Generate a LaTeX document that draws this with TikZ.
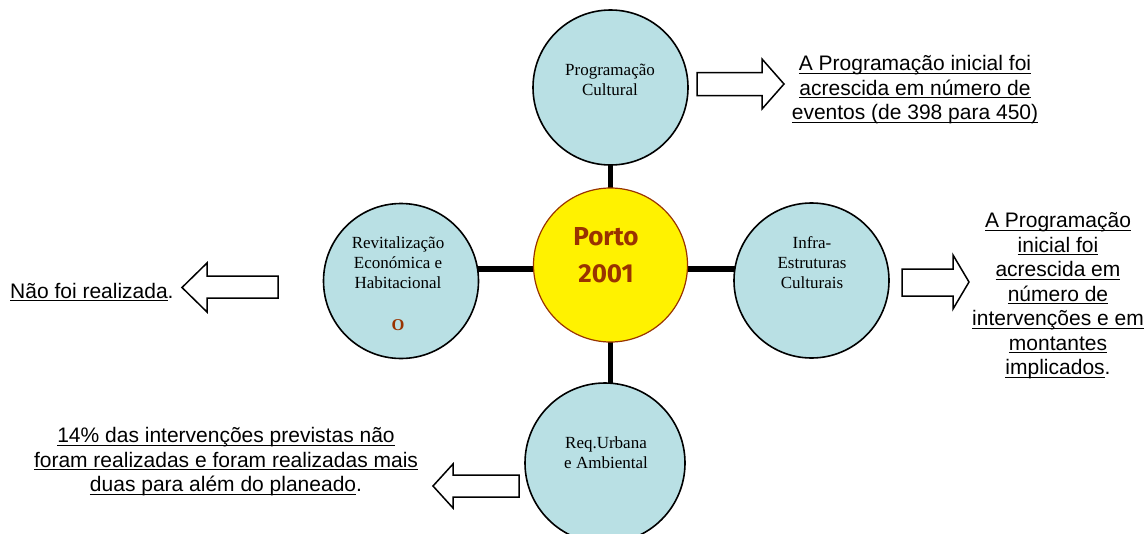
\documentclass[tikz,border=0pt]{standalone}
\usepackage{fontspec}
\setmainfont{Liberation Serif}
\newfontfamily\arialf{Liberation Sans}
\newfontfamily\portof{Fira Sans}
\usetikzlibrary{calc,backgrounds}
\definecolor{cblue}{RGB}{185,224,228}
\definecolor{cbrown}{RGB}{153,51,0}
\newcommand\ulx[1]{\setbox0\hbox{#1}\rlap{\rule[-3pt]{\wd0}{1.3pt}}\box0}
\begin{document}
\begin{tikzpicture}[x=1pt,y=-1pt,
  bubble/.style={circle,draw=black,line width=1.6pt,fill=cblue,minimum size=155pt,inner sep=0pt},
  hub/.style={circle,draw=cbrown,line width=1.2pt,fill=yellow,minimum size=154pt,inner sep=0pt},
  conn/.style={line width=5.5pt,draw=black},
  ctext/.style={align=center,inner sep=0pt,font=\fontsize{17}{20}\selectfont},
  atext/.style={align=center,inner sep=0pt,font=\arialf\fontsize{21}{24.5}\selectfont},
  blockarrow/.style={draw=black,line width=1.5pt,fill=white,line join=miter}]
\useasboundingbox (0,0) rectangle (1148,533);
% circles
\node[bubble] (prog) at (610.5,87.5) {};
\node[bubble] (revit) at (401,281) {};
\node[bubble] (infra) at (811.5,280.5) {};
\node[bubble,minimum size=160pt] (req) at (605,463) {};
\node[hub] (porto) at (610.5,265) {};
% connectors
\coordinate (hl) at ($(porto.center)+(0,4)$);
\begin{scope}[on background layer]
\draw[conn] (porto.center) -- (prog.center);
\draw[conn] (porto.center) -- (porto.center |- req.center);
\draw[conn] (hl) -- (hl -| revit.center);
\draw[conn] (hl) -- (hl -| infra.center);
\end{scope}
% circle texts
\node[ctext] (progt) at (610,79.5) {Programação\\Cultural};
\node[ctext] (revitt) at (398,262.5) {Revitalização\\Económica e\\Habitacional};
\node[anchor=base,inner sep=0pt,text=cbrown,font=\bfseries\fontsize{16.5}{20}\selectfont] (revito) at (398,330) {O};
\node[ctext] (infrat) at (812,262.5) {Infra-\\Estruturas\\Culturais};
\node[ctext] (reqt) at (606,453) {Req.Urbana\\e Ambiental};
\node[align=center,inner sep=0pt,text=cbrown,font=\portof\bfseries\fontsize{26}{37}\selectfont] (portot) at (606,255) {Porto\\2001};
% block arrows
\draw[blockarrow] (697,72.5) -- (762,72.5) -- (762,59) -- (784,84) -- (762,109) -- (762,95.5) -- (697,95.5) -- cycle;
\draw[blockarrow] (902,269) -- (953,269) -- (953,255) -- (969,282) -- (953,309) -- (953,296) -- (902,296) -- cycle;
\draw[blockarrow] (278,276) -- (207,276) -- (207,263) -- (182,287.5) -- (207,312) -- (207,298) -- (278,298) -- cycle;
\draw[blockarrow] (519,475) -- (453,475) -- (453,464) -- (433,486) -- (453,508) -- (453,497) -- (519,497) -- cycle;
% outcome texts
\node[atext] (topt) at (915,90) {\ulx{A Programação inicial foi}\\\ulx{acrescida em número de}\\\ulx{eventos (de 398 para 450)}};
\node[atext] (rightt) at (1058,296) {\ulx{A Programação}\\\ulx{inicial foi}\\\ulx{acrescida em}\\\ulx{número de}\\\ulx{intervenções e em}\\\ulx{montantes}\\\ulx{implicados}.};
\node[atext,anchor=base west] (leftt) at (10,298) {\ulx{Não foi realizada}.};
\node[atext] (bott) at (226,462) {\ulx{14\% das intervenções previstas não}\\\ulx{foram realizadas e foram realizadas mais}\\\ulx{duas para além do planeado}.};
\end{tikzpicture}
\end{document}
